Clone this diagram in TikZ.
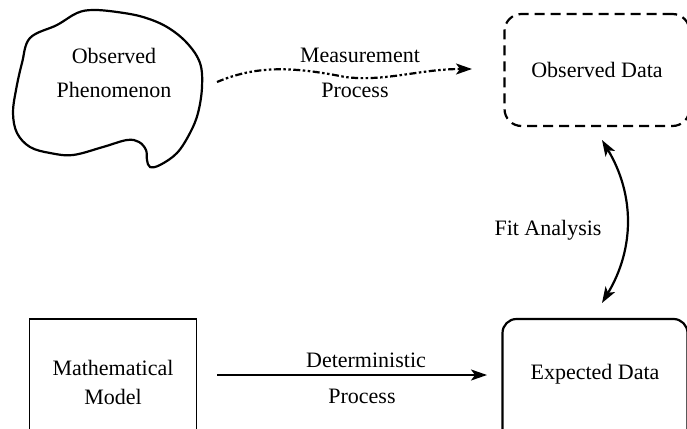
\documentclass[tikz,border=0pt]{standalone}
\usepackage{fontspec}
\setmainfont{Liberation Serif}
\usetikzlibrary{arrows.meta}

\begin{document}
\begin{tikzpicture}[x=1pt, y=-1pt, line width=2.2pt,
    font=\fontsize{22}{29}\selectfont,
    mytip/.tip={Stealth[length=16pt, width=11pt, inset=4pt]},
    databox/.style={draw, rounded corners=17pt, minimum width=185pt, minimum height=112pt, align=center},
    modelbox/.style={draw, line width=1.8pt, minimum width=167pt, minimum height=126pt, align=center},
    lbl/.style={anchor=base, inner sep=0pt}]
        \useasboundingbox (0,0) rectangle (687,428);
        \clip (0,0) rectangle (687,428);

        % Nodes
        \draw plot[smooth cycle, tension=0.6] coordinates {(30,38) (57,25) (77,13) (93,10) (117,12)
            (143,17) (167,27) (187,43) (200,63) (202,87) (198,113) (190,133) (177,153) (160,165)
            (150,167) (147,160) (146,150) (139,142) (127,140) (103,147) (73,155) (50,153) (30,147)
            (17,133) (13,113) (16,90) (22,63)};
        \node[align=center, font=\fontsize{22}{34}\selectfont] (phen) at (114,73) {Observed\\Phenomenon};
        \node[databox, dash pattern=on 10pt off 6pt] (obs) at (597,70) {Observed Data};
        \node[modelbox] (model) at (113,382) {Mathematical\\Model};
        \node[databox, rounded corners=14pt, minimum height=130pt, text depth=25pt] (exp) at (595,384) {Expected Data};

        % Labels
        \node[lbl] (meas-a) at (360,63) {Measurement};
        \node[lbl] (meas-b) at (355,97) {Process};
        \node[lbl] (det-a) at (366,367) {Deterministic};
        \node[lbl] (det-b) at (362,403) {Process};
        \node (fit) at (548,230) {Fit Analysis};

        % Edges
        \coordinate (m-start) at (217,82);
        \coordinate (m-end) at (472,69);
        \draw[-mytip, dash pattern=on 7pt off 2.5pt on 2.5pt off 2.5pt on 2.5pt off 2.5pt]
            (m-start) .. controls (255,66) and (290,66) .. (345,77)
            .. controls (385,82) and (420,69) .. (m-end);
        \coordinate (f-top) at (602,140);
        \coordinate (f-bot) at (602,303);
        \draw[mytip-mytip] (f-top) to[bend left=31] (f-bot);
        \coordinate (d-start) at (217,375);
        \coordinate (d-end) at (487,375);
        \draw[-mytip] (d-start) -- (d-end);
\end{tikzpicture}
\end{document}
